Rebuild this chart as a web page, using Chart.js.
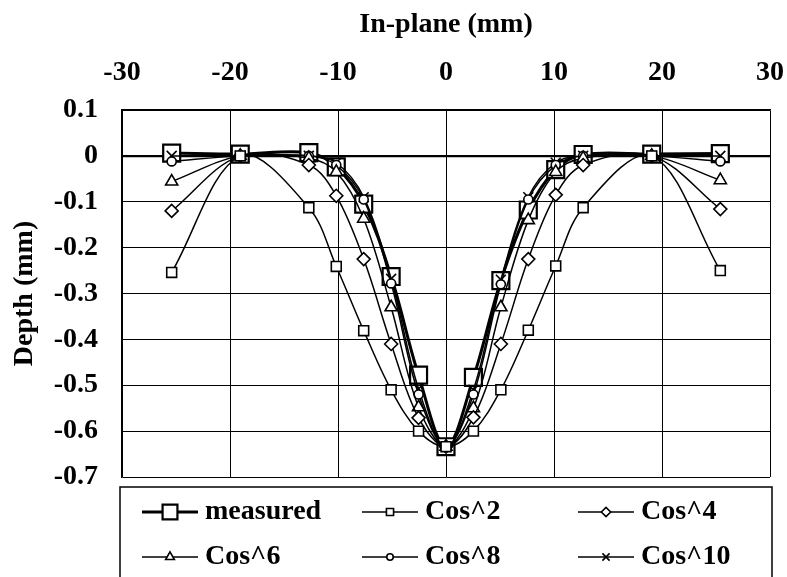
<!DOCTYPE html>
<html>
<head>
<meta charset="utf-8">
<script src="https://cdn.jsdelivr.net/npm/chart.js@4/dist/chart.umd.min.js"></script>
<style>
  html, body { margin: 0; padding: 0; background: #fff; }
  canvas { display: block; }
</style>
</head>
<body>
<canvas id="myChart" width="787" height="577"></canvas>
<script>
// positions of the profile points (mm)
const inPlane = [-25.4, -19.05, -12.7, -10.16, -7.62, -5.08, -2.54, 0, 2.54, 5.08, 7.62, 10.16, 12.7, 19.05, 25.4];

// depth values (mm)
const measured = [0.006, 0.004, 0.007, -0.024, -0.105, -0.263, -0.478, -0.634, -0.483, -0.272, -0.118, -0.03, 0.003, 0.004, 0.005];
const cos2 = [-0.254, 0.0, -0.113, -0.241, -0.381, -0.51, -0.6, -0.634, -0.6, -0.51, -0.38, -0.24, -0.113, 0.0, -0.25];
const cos4 = [-0.12, 0.0, -0.02, -0.087, -0.225, -0.41, -0.571, -0.634, -0.57, -0.41, -0.225, -0.085, -0.02, 0.0, -0.116];
const cos6 = [-0.056, 0.0, -0.005, -0.035, -0.137, -0.33, -0.548, -0.634, -0.55, -0.33, -0.14, -0.035, -0.005, 0.0, -0.053];
const cos8 = [-0.012, 0.0, 0.0, -0.02, -0.095, -0.278, -0.52, -0.634, -0.52, -0.28, -0.095, -0.02, 0.0, 0.0, -0.012];
const cos10 = [0.0, 0.0, 0.0, -0.015, -0.09, -0.268, -0.508, -0.634, -0.51, -0.27, -0.09, -0.015, 0.0, 0.0, 0.0];

const seriesNames = ['measured', 'Cos^2', 'Cos^4', 'Cos^6', 'Cos^8', 'Cos^10'];
const xTicks = [-30, -20, -10, 0, 10, 20, 30];
const yTicks = [0.1, 0, -0.1, -0.2, -0.3, -0.4, -0.5, -0.6, -0.7];

const FONT = "'Liberation Serif', 'Times New Roman', serif";

function pts(values) {
  return values.map((v, i) => ({ x: inPlane[i], y: v }));
}

function series(label, values, style, radius, lineW, order) {
  return {
    label: label,
    data: pts(values),
    borderColor: '#000',
    borderWidth: lineW,
    pointStyle: style,
    pointRadius: radius,
    pointBorderWidth: 1.6,
    pointBackgroundColor: '#fff',
    pointBorderColor: '#000',
    tension: 0.35,
    order: order
  };
}

const datasets = [
  series(seriesNames[0], measured, 'rect', 12, 3, 1),
  series(seriesNames[1], cos2, 'rect', 7, 1.5, 0),
  series(seriesNames[2], cos4, 'rectRot', 6.5, 1.5, 0),
  series(seriesNames[3], cos6, 'triangle', 7, 1.5, 0),
  series(seriesNames[4], cos8, 'circle', 4.5, 1.5, 0),
  series(seriesNames[5], cos10, 'crossRot', 7, 1.5, 0)
];
datasets[0].pointBorderWidth = 2.2;

// boxed legend, three columns by two rows
const legendCols = [142, 362, 578];
const legendRows = [512, 557];
const legendBox = {
  id: 'legendBox',
  afterDraw(chart) {
    const ctx = chart.ctx;
    ctx.save();
    ctx.strokeStyle = '#000';
    ctx.lineWidth = 1.5;
    ctx.strokeRect(120, 487, 652, 120);
    chart.data.datasets.forEach((ds, i) => {
      const x = legendCols[i % 3];
      const y = legendRows[Math.floor(i / 3)];
      ctx.strokeStyle = '#000';
      ctx.lineWidth = ds.borderWidth;
      ctx.beginPath();
      ctx.moveTo(x, y);
      ctx.lineTo(x + 56, y);
      ctx.stroke();
      ctx.fillStyle = '#fff';
      ctx.lineWidth = ds.pointBorderWidth;
      Chart.helpers.drawPoint(ctx, {
        pointStyle: ds.pointStyle,
        radius: i === 0 ? 10.5 : ds.pointRadius * 0.72,
        rotation: 0,
        borderWidth: ds.pointBorderWidth
      }, x + 28, y);
      ctx.fillStyle = '#000';
      ctx.font = 'bold 28px ' + FONT;
      ctx.textBaseline = 'middle';
      ctx.textAlign = 'left';
      ctx.fillText(ds.label, x + 63, y);
    });
    ctx.restore();
  }
};

const ctx = document.getElementById('myChart').getContext('2d');

const myChart = new Chart(ctx, {
  type: 'line',
  data: { datasets: datasets },
  options: {
    responsive: false,
    animation: false,
    devicePixelRatio: 1,
    layout: { padding: { left: 0, right: 17, top: 0, bottom: 100 } },
    plugins: {
      legend: { display: false },
      tooltip: { enabled: false }
    },
    scales: {
      x: {
        type: 'linear',
        position: 'top',
        min: -30,
        max: 30,
        afterFit(scale) {
          scale.height = 110;
          scale.paddingLeft = 0;
          scale.paddingRight = 0;
        },
        afterBuildTicks(scale) { scale.ticks = xTicks.map(v => ({ value: v })); },
        title: {
          display: true,
          text: 'In-plane (mm)',
          color: '#000',
          font: { family: FONT, size: 28, weight: 'bold' },
          padding: { top: 8, bottom: 4 }
        },
        ticks: {
          color: '#000',
          font: { family: FONT, size: 28, weight: 'bold' },
          padding: 20,
          maxRotation: 0
        },
        grid: { color: '#000', lineWidth: 1, drawTicks: false },
        border: { color: '#000', width: 1.5 }
      },
      y: {
        type: 'linear',
        min: -0.7,
        max: 0.1,
        afterFit(scale) {
          scale.width = 122;
          scale.paddingTop = 0;
          scale.paddingBottom = 0;
        },
        afterBuildTicks(scale) { scale.ticks = yTicks.map(v => ({ value: v })); },
        title: {
          display: true,
          text: 'Depth (mm)',
          color: '#000',
          font: { family: FONT, size: 28, weight: 'bold' },
          padding: { top: 8, bottom: 4 }
        },
        ticks: {
          color: '#000',
          font: { family: FONT, size: 28, weight: 'bold' },
          padding: 24,
          callback: (v) => (Math.abs(v) < 1e-9 ? '0' : String(Number(v.toFixed(1))))
        },
        grid: {
          color: '#000',
          lineWidth: (c) => (c.tick && Math.abs(c.tick.value) < 1e-9 ? 2.2 : 1),
          drawTicks: false
        },
        border: { color: '#000', width: 1.5 }
      }
    }
  },
  plugins: [legendBox]
});
</script>
</body>
</html>
